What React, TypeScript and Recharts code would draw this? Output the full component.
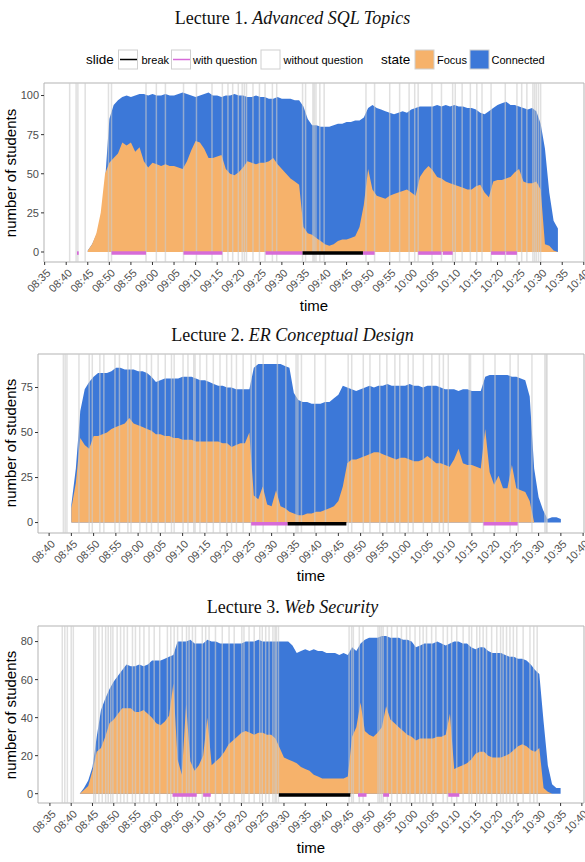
import React from "react";
import { ComposedChart, Area, XAxis, YAxis, ReferenceLine, ReferenceArea } from "recharts";

const BLUE = "#3c78d8";
const ORANGE = "#f6b26b";
const VIOLET = "#d66bd8";
const SLIDE_GRAY = "#cccccc";
const SANS = '"Liberation Sans", Arial, sans-serif';
const SERIF = '"Liberation Serif", "Times New Roman", serif';

// x values everywhere are minutes after 08:00
const toMin = (s: string) => {
  const [h, m] = s.split(":").map(Number);
  return (h - 8) * 60 + m;
};
const fmt = (v: number) => {
  const h = 8 + Math.floor(v / 60);
  const m = Math.round(v % 60);
  return `${String(h).padStart(2, "0")}:${String(m).padStart(2, "0")}`;
};

const ticksFrom835 = ["08:35", "08:40", "08:45", "08:50", "08:55", "09:00", "09:05", "09:10", "09:15", "09:20", "09:25", "09:30", "09:35", "09:40", "09:45", "09:50", "09:55", "10:00", "10:05", "10:10", "10:15", "10:20", "10:25", "10:30", "10:35", "10:40"];
const ticksFrom840 = ticksFrom835.slice(1);

// ---- Lecture 1: Advanced SQL Topics (one value per minute from 08:45) ----
const lec1Start = "08:45";
const lec1Connected = [
  1, 5, 11, 19, 45, 85, 94, 97, 99, 100,
  99, 100, 101, 101, 100, 101, 100, 100, 101, 100,
  100, 101, 102, 101, 100, 99, 100, 101, 102, 100,
  100, 99, 100, 100, 101, 100, 100, 99, 99, 100,
  99, 99, 98, 98, 99, 98, 98, 98, 97, 97,
  93, 85, 81, 81, 80, 80, 80, 81, 82, 82,
  83, 83, 84, 84, 86, 92, 94, 92, 91, 90,
  89, 88, 89, 90, 89, 91, 92, 93, 93, 93,
  93, 94, 93, 94, 93, 94, 93, 93, 92, 92,
  91, 89, 88, 90, 92, 94, 95, 96, 94, 94,
  93, 92, 91, 92, 90, 82, 66, 38, 20, 15,
];
const lec1Focus = [
  1, 5, 12, 25, 50, 57, 60, 63, 70, 68,
  70, 64, 67, 58, 54, 57, 56, 55, 56, 55,
  55, 54, 53, 58, 65, 71, 70, 66, 60, 60,
  61, 62, 53, 50, 49, 51, 54, 58, 57, 56,
  57, 57, 58, 60, 56, 53, 50, 47, 45, 43,
  16, 12, 11, 9, 7, 5, 4, 5, 7, 8,
  8, 9, 10, 16, 30, 53, 40, 36, 35, 34,
  36, 37, 38, 39, 40, 38, 36, 48, 52, 55,
  52, 48, 47, 45, 44, 43, 42, 41, 40, 40,
  42, 43, 38, 35, 45, 46, 46, 47, 48, 51,
  53, 45, 44, 44, 45, 40, 5, 4, 1, 0,
];
const lec1Slides = [40.8, 42.3, 42.7, 44.4, 49.8, 50.5, 58.5, 60.9, 63.0, 67.2, 70.2, 73.8, 76.2, 77.5, 78.6, 79.9, 80.8, 81.3, 81.8, 83.3, 84.8, 86.1, 87.8, 88.8, 94.8, 95.5, 97.2, 97.5, 97.9, 98.8, 99.8, 109.5, 111.5, 115, 117.3, 119.5, 120.8, 121.6, 124.8, 127, 129.6, 130.2, 131.8, 133.7, 135.2, 136.4, 138.5, 141.8, 144.5, 145.6, 146.8, 148.2, 148.6, 149, 149.5, 150];
const lec1Questions = [[42.5, 42.9], [50.5, 58.5], [67.2, 76.2], [86.2, 94.8], [108.8, 111.5], [121.6, 127.0], [127.3, 129.6], [138.5, 141.8], [142.0, 144.5]];
const lec1Breaks = [[94.8, 108.8]];

// ---- Lecture 2: ER Conceptual Design (one value per minute from 08:45) ----
const lec2Start = "08:45";
const lec2Connected = [
  10, 30, 62, 74, 78, 81, 83, 83, 83, 84,
  86, 86, 85, 85, 85, 84, 84, 83, 81, 78,
  79, 80, 80, 80, 80, 81, 81, 81, 80, 79,
  79, 78, 77, 76, 76, 75, 75, 74, 74, 74,
  74, 86, 88, 88, 88, 88, 88, 88, 87, 86,
  72, 68, 67, 67, 66, 66, 66, 67, 67, 69,
  71, 76, 75, 74, 73, 74, 75, 76, 75, 76,
  76, 77, 76, 76, 76, 76, 77, 76, 76, 75,
  76, 76, 76, 75, 74, 74, 74, 73, 74, 74,
  73, 73, 73, 81, 82, 82, 82, 82, 82, 81,
  81, 80, 79, 70, 30, 14, 7, 2, 3, 3, 2,
];
const lec2Focus = [
  8, 22, 47, 43, 41, 48, 48, 49, 50, 52,
  53, 54, 55, 58, 55, 54, 53, 52, 51, 49,
  49, 48, 48, 47, 47, 46, 46, 46, 45, 45,
  45, 45, 45, 45, 44, 44, 42, 43, 44, 44,
  50, 15, 13, 20, 10, 9, 18, 9, 8, 6,
  5, 4, 4, 5, 5, 6, 6, 7, 8, 9,
  12, 20, 33, 35, 35, 36, 37, 38, 39, 39,
  38, 37, 36, 35, 36, 36, 35, 34, 34, 35,
  37, 35, 33, 33, 32, 31, 35, 41, 33, 32,
  32, 31, 30, 52, 28, 21, 26, 19, 19, 32,
  19, 18, 17, 12, 0, 0, 0, 0, 0, 0, 0,
];
const lec2Slides = [43.2, 43.6, 44.0, 46.7, 49.0, 49.7, 51.4, 52.3, 54.8, 55.8, 57.7, 58.4, 60.4, 61.9, 63, 64.5, 66.1, 67.5, 68.1, 70.1, 71.2, 72.5, 72.8, 73.9, 75.4, 76.9, 78.4, 79.9, 81, 82.1, 83.6, 85.4, 86.4, 88.1, 91.3, 93.2, 95.5, 95.9, 96.7, 99.7, 102.1, 107.2, 108, 110.6, 112.1, 114.3, 115.9, 117.7, 118.8, 120.7, 121.8, 124.1, 126, 127.7, 128.6, 129.7, 134.4, 134.7, 137.6, 140.2, 143.6, 145.4, 148.5, 151.4, 151.7, 151.9];
const lec2Questions = [[85.4, 93.6], [137.6, 145.3]];
const lec2Breaks = [[93.6, 106.8]];

// ---- Lecture 3: Web Security (one value per minute from 08:42) ----
const lec3Start = "08:42";
const lec3Connected = [
  0, 3, 7, 14, 30, 44, 50, 55, 59, 62,
  65, 68, 67, 67, 68, 67, 68, 70, 70, 70,
  71, 72, 73, 80, 80, 80, 81, 79, 79, 79,
  81, 80, 80, 79, 79, 79, 79, 79, 79, 80,
  80, 80, 81, 80, 80, 80, 80, 80, 80, 80,
  78, 74, 75, 76, 75, 76, 75, 75, 74, 74,
  74, 73, 74, 73, 77, 75, 79, 81, 82, 82,
  82, 83, 83, 82, 82, 82, 81, 81, 80, 77,
  78, 79, 79, 79, 80, 79, 78, 79, 80, 80,
  79, 79, 77, 76, 77, 77, 75, 74, 74, 74,
  73, 72, 72, 71, 71, 70, 68, 65, 63, 38,
  15, 5, 3, 3,
];
const lec3Focus = [
  0, 2, 4, 12, 22, 24, 30, 37, 39, 42,
  45, 45, 45, 43, 43, 44, 42, 40, 37, 36,
  38, 41, 58, 18, 10, 47, 17, 12, 15, 20,
  40, 15, 17, 19, 22, 26, 28, 30, 32, 33,
  32, 31, 32, 32, 31, 31, 29, 24, 19, 18,
  17, 16, 14, 13, 12, 10, 9, 8, 8, 8,
  8, 8, 8, 9, 30, 35, 48, 33, 31, 30,
  32, 35, 46, 39, 37, 35, 33, 31, 30, 28,
  29, 29, 29, 29, 30, 30, 31, 42, 13, 14,
  15, 16, 18, 21, 22, 22, 20, 19, 19, 19,
  20, 21, 23, 25, 26, 25, 23, 22, 24, 3,
  1, 0, 0, 0,
];
const lec3Slides = [37.9, 38.5, 39.1, 40.0, 40.5, 45.3, 45.7, 46.5, 47.3, 48.1, 48.7, 49.3, 49.8, 50.8, 51.6, 52.4, 53.2, 54.4, 55.1, 56.1, 57.1, 58.3, 59.5, 60.8, 62.6, 63.4, 64.2, 65, 66.1, 67.1, 67.7, 68.5, 69.2, 70.8, 71.6, 72.4, 73.9, 75.5, 77.1, 78.3, 80.1, 80.6, 81.8, 83, 84.3, 84.9, 85.7, 86.5, 87.4, 87.9, 88.2, 88.7, 105.3, 105.9, 106.3, 107.7, 108.6, 112.1, 112.5, 112.9, 113.3, 114.3, 115.3, 116.6, 117.6, 118.8, 119.6, 120.8, 121.9, 122.7, 123.5, 124.7, 125.7, 127.4, 128.4, 129.4, 130.6, 132.1, 133.5, 134.1, 135.3, 136, 136.8, 137.6, 138.8, 140, 140.9, 141.5, 142.3, 143.1, 143.9, 144.7, 146.2, 147.8, 148.7, 149.5];
const lec3Questions = [[63.8, 69.5], [71.0, 72.8], [107.4, 109.4], [113.3, 114.7], [128.6, 131.2]];
const lec3Breaks = [[88.8, 105.6]];

const TimeTick = (props: any) => {
  const { x, y, payload } = props;
  const ax = x + 1;
  const ay = y + 1;
  return (
    <text x={ax} y={ay} dy="0.72em" textAnchor="end" transform={`rotate(-45 ${ax} ${ay})`} fontSize={11} fill="#4d4d4d" fontFamily={SANS}>
      {fmt(payload.value)}
    </text>
  );
};

type PanelProps = {
  start: string;
  connected: number[];
  focus: number[];
  slides: number[];
  questions: number[][];
  breaks: number[][];
  xTicks: string[];
  xDomain: [number, number];
  yTicks: number[];
  yDomain: [number, number];
  plotLeft: number;
  plotTop: number;
  plotBottom: number;
};

function LecturePanel(p: PanelProps) {
  const t0 = toMin(p.start);
  const rows = p.connected.map((c, i) => ({ t: t0 + i, connected: c, focus: p.focus[i] }));
  const height = p.plotBottom - p.plotTop + 10 + 50;
  return (
    <div style={{ position: "absolute", left: 0, top: p.plotTop - 10 }}>
      <ComposedChart width={585} height={height} data={rows} margin={{ top: 10, right: 1, bottom: 0, left: 0 }}>
        <XAxis
          type="number"
          dataKey="t"
          domain={p.xDomain}
          allowDataOverflow
          ticks={p.xTicks.map(toMin)}
          interval={0}
          tick={<TimeTick />}
          tickSize={3}
          tickLine={{ stroke: "#333333" }}
          axisLine={false}
          height={50}
        />
        <YAxis
          type="number"
          domain={p.yDomain}
          allowDataOverflow
          ticks={p.yTicks}
          interval={0}
          width={p.plotLeft}
          tickSize={3}
          tickLine={{ stroke: "#333333" }}
          axisLine={false}
          tick={{ fontSize: 11, fill: "#4d4d4d", fontFamily: SANS }}
        />
        <Area type="linear" dataKey="connected" stroke="none" fill={BLUE} fillOpacity={1} baseValue={0} isAnimationActive={false} dot={false} activeDot={false} />
        <Area type="linear" dataKey="focus" stroke="none" fill={ORANGE} fillOpacity={1} baseValue={0} isAnimationActive={false} dot={false} activeDot={false} />
        {p.slides.map((s, i) => (
          <ReferenceLine key={`s${i}`} x={s} stroke={SLIDE_GRAY} strokeOpacity={0.6} strokeWidth={1.5} />
        ))}
        {p.questions.map(([a, b], i) => (
          <ReferenceLine key={`q${i}`} segment={[{ x: a, y: -0.7 }, { x: b, y: -0.7 }]} stroke={VIOLET} strokeWidth={3.5} />
        ))}
        {p.breaks.map(([a, b], i) => (
          <ReferenceLine key={`b${i}`} segment={[{ x: a, y: -0.7 }, { x: b, y: -0.7 }]} stroke="#000000" strokeWidth={3.5} />
        ))}
        <ReferenceArea x1={p.xDomain[0]} x2={p.xDomain[1]} y1={p.yDomain[0]} y2={p.yDomain[1]} fill="none" stroke="#b3b3b3" strokeWidth={1} ifOverflow="visible" />
      </ComposedChart>
    </div>
  );
}

function Titles() {
  const yTitle = (cx: number, cy: number) => (
    <text x={cx} y={cy} textAnchor="middle" transform={`rotate(-90 ${cx} ${cy})`} fontSize={15} fontFamily={SANS} fill="#000">
      number of students
    </text>
  );
  const lecTitle = (y: number, head: string, italic: string) => (
    <text x={292.5} y={y} textAnchor="middle" fontSize={18} fontFamily={SERIF} fill="#111">
      {head}
      <tspan fontStyle="italic">{italic}</tspan>
    </text>
  );
  const key = (x: number) => <rect x={x} y={50} width={19} height={19} fill="#fff" stroke="#d0d0d0" />;
  return (
    <svg width={585} height={862} style={{ position: "absolute", left: 0, top: 0, pointerEvents: "none" }}>
      {lecTitle(24, "Lecture 1. ", "Advanced SQL Topics")}
      {lecTitle(341, "Lecture 2. ", "ER Conceptual Design")}
      {lecTitle(613, "Lecture 3. ", "Web Security")}

      <g fontFamily={SANS}>
        <text x={86} y={64} fontSize={13.5} fill="#000">slide</text>
        {key(118.5)}
        <line x1={120} x2={137} y1={59.5} y2={59.5} stroke="#000" strokeWidth={1.5} />
        <text x={141.5} y={63.5} fontSize={11} fill="#000">break</text>
        {key(171.5)}
        <line x1={173} x2={190} y1={59.5} y2={59.5} stroke={VIOLET} strokeWidth={1.5} />
        <text x={193} y={63.5} fontSize={11} fill="#000">with question</text>
        {key(261)}
        <text x={283.5} y={63.5} fontSize={11} fill="#000">without question</text>
        <text x={381} y={64} fontSize={13.5} fill="#000">state</text>
        <rect x={415} y={50} width={19} height={19} fill={ORANGE} stroke="#d0d0d0" />
        <text x={437} y={63.5} fontSize={11} fill="#000">Focus</text>
        <rect x={470} y={50} width={19} height={19} fill={BLUE} stroke="#d0d0d0" />
        <text x={491.5} y={63.5} fontSize={11} fill="#000">Connected</text>
      </g>

      {yTitle(16, 173)}
      {yTitle(16, 443)}
      {yTitle(16, 715)}
      <text x={314} y={311} textAnchor="middle" fontSize={15} fontFamily={SANS} fill="#000">time</text>
      <text x={311} y={581} textAnchor="middle" fontSize={15} fontFamily={SANS} fill="#000">time</text>
      <text x={311} y={853} textAnchor="middle" fontSize={15} fontFamily={SANS} fill="#000">time</text>
    </svg>
  );
}

export default function App() {
  return (
    <div style={{ position: "absolute", left: 0, top: 0, width: 585, height: 862, background: "#fff" }}>
      <LecturePanel
        start={lec1Start}
        connected={lec1Connected}
        focus={lec1Focus}
        slides={lec1Slides}
        questions={lec1Questions}
        breaks={lec1Breaks}
        xTicks={ticksFrom835}
        xDomain={[34.85, 160.05]}
        yTicks={[0, 25, 50, 75, 100]}
        yDomain={[-6.4, 108]}
        plotLeft={44}
        plotTop={83}
        plotBottom={262}
      />
      <LecturePanel
        start={lec2Start}
        connected={lec2Connected}
        focus={lec2Focus}
        slides={lec2Slides}
        questions={lec2Questions}
        breaks={lec2Breaks}
        xTicks={ticksFrom840}
        xDomain={[37.5, 160.2]}
        yTicks={[0, 25, 50, 75]}
        yDomain={[-5.8, 93.6]}
        plotLeft={38}
        plotTop={354}
        plotBottom={533}
      />
      <LecturePanel
        start={lec3Start}
        connected={lec3Connected}
        focus={lec3Focus}
        slides={lec3Slides}
        questions={lec3Questions}
        breaks={lec3Breaks}
        xTicks={ticksFrom835}
        xDomain={[32.2, 160.5]}
        yTicks={[0, 20, 40, 60, 80]}
        yDomain={[-4.9, 88.2]}
        plotLeft={38}
        plotTop={626}
        plotBottom={803}
      />
      <Titles />
    </div>
  );
}
